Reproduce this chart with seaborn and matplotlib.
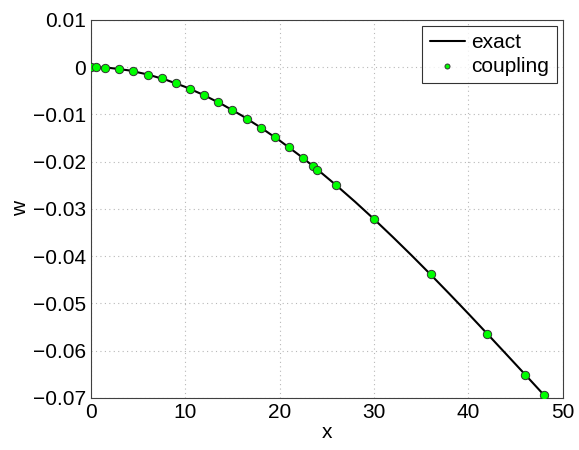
import numpy as np
import pandas as pd
import matplotlib
matplotlib.use('Agg')
import matplotlib.pyplot as plt
import seaborn as sns

# exact solution
x_exact = [0, 2, 4, 6, 8, 10, 12, 14, 16, 18, 20, 22, 24,
           26, 28, 30, 32, 34, 36, 38, 40, 42, 44, 46, 48]
w_exact = [0.0, -0.00018, -0.0007, -0.00156, -0.00273, -0.0042, -0.00596,
           -0.008, -0.01028, -0.01281, -0.01556, -0.01853, -0.02169,
           -0.02503, -0.02853, -0.03219, -0.03599, -0.0399, -0.04392,
           -0.04803, -0.05221, -0.05646, -0.06075, -0.06506, -0.0694]

# coupling nodes
x_coup = [0, 0.5, 1.5, 3, 4.5, 6, 7.5, 9, 10.5, 12, 13.5, 15, 16.5, 18,
          19.5, 21, 22.5, 23.5, 24, 26, 30, 36, 42, 46, 48]
w_coup = [0.0, 0.0, -0.0001, -0.0004, -0.0009, -0.0016, -0.0024, -0.0034,
          -0.0046, -0.006, -0.0075, -0.0091, -0.0109, -0.0128, -0.0149,
          -0.017, -0.0193, -0.0209, -0.0217, -0.025, -0.0322, -0.0439,
          -0.0565, -0.0651, -0.0694]

sns.set_style('white')
plt.rcParams['font.family'] = ['Liberation Sans', 'DejaVu Sans']
plt.rcParams['text.color'] = 'black'
plt.rcParams['axes.labelcolor'] = 'black'
plt.rcParams['xtick.color'] = 'black'
plt.rcParams['ytick.color'] = 'black'

df_exact = pd.DataFrame({'x': x_exact, 'w': w_exact})
df_coup = pd.DataFrame({'x': x_coup, 'w': w_coup})

fig = plt.figure(figsize=(5.79, 4.5), dpi=100)
ax = fig.add_axes([0.157, 0.116, 0.815, 0.840])

sns.lineplot(data=df_exact, x='x', y='w', color='black', linewidth=1.5,
             label='exact', ax=ax)
sns.scatterplot(data=df_coup, x='x', y='w', color='#00ff00', edgecolor='#333333',
                linewidth=0.7, s=36, label='coupling', ax=ax, zorder=3)

ax.set_xlim(0, 50)
ax.set_ylim(-0.07, 0.01)
ax.set_xticks([0, 10, 20, 30, 40, 50])
ax.set_yticks(np.arange(-0.07, 0.0101, 0.01))
ax.set_yticklabels(['\u22120.07', '\u22120.06', '\u22120.05', '\u22120.04',
                    '\u22120.03', '\u22120.02', '\u22120.01', '0', '0.01'])
ax.grid(True, linestyle=(0, (1, 3)), color='#b8b8b8', linewidth=0.8)
ax.tick_params(direction='in', labelsize=15, length=4, color='#404040',
               labelcolor='black')
for sp in ax.spines.values():
    sp.set_color('#404040')
    sp.set_linewidth(0.8)
ax.set_xlabel('x', fontsize=15, labelpad=1)
ax.set_ylabel('w', fontsize=15, labelpad=2)

leg = ax.legend(loc='upper right', fontsize=15, frameon=True, fancybox=False,
                edgecolor='black', borderpad=0.35, handlelength=1.7,
                handletextpad=0.3, labelspacing=0.2, borderaxespad=0.3,
                markerscale=0.6)
leg.get_frame().set_linewidth(0.8)

fig.savefig('out.png', dpi=100)
